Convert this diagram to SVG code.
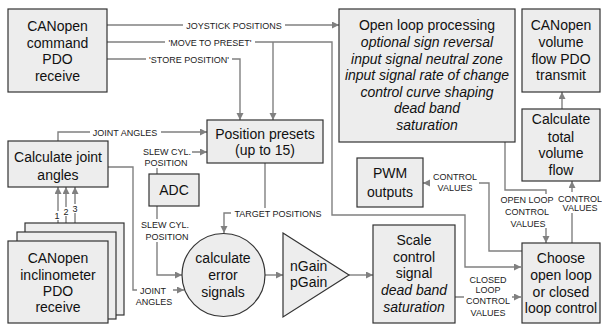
<svg xmlns="http://www.w3.org/2000/svg" width="602" height="325" viewBox="0 0 602 325">
<style>
.box{fill:#ededed;stroke:#333;stroke-width:1.2}
.t{font-family:"Liberation Sans",Arial,sans-serif;font-size:14px;fill:#111;text-anchor:middle}
.i{font-style:italic}
.l{font-family:"Liberation Sans",Arial,sans-serif;font-size:9px;fill:#222;text-anchor:middle}
.c{fill:none;stroke:#808080;stroke-width:1.4}
.bg{fill:#fff}
</style>
<defs>
<marker id="a" markerUnits="userSpaceOnUse" markerWidth="8" markerHeight="8" refX="7" refY="3.5" orient="auto">
<path d="M0,0 L7,3.5 L0,7 z" fill="#808080"/>
</marker>
</defs>
<g id="connectors">
<path class="c" d="M107,25 H339" marker-end="url(#a)"/>
<path class="c" d="M107,42 H332 V215 H465 V267 H521" marker-end="url(#a)"/>
<path class="c" d="M273,42 V120" marker-end="url(#a)"/>
<path class="c" d="M107,59 H240 V120" marker-end="url(#a)"/>
<path class="c" d="M58,141 V132 H207" marker-end="url(#a)"/>
<path class="c" d="M157,174 V152 H207" marker-end="url(#a)"/>
<path class="c" d="M157,206 V275 H182" marker-end="url(#a)"/>
<path class="c" d="M108,167 H133 V290 H184" marker-end="url(#a)"/>
<path class="c" d="M265,163 V213 H224 V233" marker-end="url(#a)"/>
<path class="c" d="M265,275 H283" marker-end="url(#a)"/>
<path class="c" d="M349,275 H373" marker-end="url(#a)"/>
<path class="c" d="M455,297 H521" marker-end="url(#a)"/>
<path class="c" d="M505,142 V190 H546 V243" marker-end="url(#a)"/>
<path class="c" d="M522,251 H489 V183 H423" marker-end="url(#a)"/>
<path class="c" d="M572,243 V181" marker-end="url(#a)"/>
<path class="c" d="M562,109 V92" marker-end="url(#a)"/>
<path class="c" d="M58,241 V187" marker-end="url(#a)"/>
<path class="c" d="M66,232 V187" marker-end="url(#a)"/>
<path class="c" d="M75,223 V187" marker-end="url(#a)"/>
<rect class="bg" x="183" y="20" width="102" height="10"/>
<text class="l" x="234" y="28.5">JOYSTICK POSITIONS</text>
<rect class="bg" x="165" y="37" width="90" height="10"/>
<text class="l" x="210" y="45.5">'MOVE TO PRESET'</text>
<rect class="bg" x="146" y="54" width="86" height="10"/>
<text class="l" x="189" y="62.5">'STORE POSITION'</text>
<rect class="bg" x="90" y="127" width="71" height="10"/>
<text class="l" x="125" y="135.5">JOINT ANGLES</text>
<rect class="bg" x="141" y="146" width="51" height="22"/>
<text class="l" x="167" y="155">SLEW CYL.</text>
<text class="l" x="166" y="166">POSITION</text>
<rect class="bg" x="142" y="219" width="50" height="23"/>
<text class="l" x="165" y="228">SLEW CYL.</text>
<text class="l" x="167" y="239.5">POSITION</text>
<rect class="bg" x="137" y="284" width="36" height="23"/>
<text class="l" x="153" y="294">JOINT</text>
<text class="l" x="154" y="305">ANGLES</text>
<rect class="bg" x="231" y="208" width="94" height="11"/>
<text class="l" x="278" y="216.5">TARGET POSITIONS</text>
<rect class="bg" x="464" y="273" width="48" height="45"/>
<text class="l" x="488" y="282.5">CLOSED</text>
<text class="l" x="488" y="293">LOOP</text>
<text class="l" x="488" y="304">CONTROL</text>
<text class="l" x="488" y="316">VALUES</text>
<rect class="bg" x="498" y="194" width="59" height="34"/>
<text class="l" x="527" y="202.5">OPEN LOOP</text>
<text class="l" x="527" y="215">CONTROL</text>
<text class="l" x="528" y="226.5">VALUES</text>
<rect class="bg" x="430" y="170" width="49" height="23"/>
<text class="l" x="455" y="180">CONTROL</text>
<text class="l" x="455" y="191">VALUES</text>
<rect class="bg" x="558" y="192" width="44" height="21"/>
<text class="l" x="580" y="201.5">CONTROL</text>
<text class="l" x="580" y="211">VALUES</text>
<rect class="bg" x="54" y="211" width="6" height="9"/>
<text class="l" x="57" y="218.5">1</text>
<rect class="bg" x="63" y="207" width="6" height="9"/>
<text class="l" x="66" y="215">2</text>
<rect class="bg" x="72" y="204" width="6" height="9"/>
<text class="l" x="75" y="211.5">3</text>
</g>
<g id="canopen-command">
<rect class="box" x="8" y="9" width="99" height="83"/>
<text class="t" x="57.5" y="31">CANopen</text>
<text class="t" x="57.5" y="47.5">command</text>
<text class="t" x="57.5" y="64">PDO</text>
<text class="t" x="57.5" y="81">receive</text>
</g>
<g id="open-loop">
<rect class="box" x="339" y="9" width="176" height="133"/>
<text class="t" x="427" y="30">Open loop processing</text>
<text class="t i" x="427" y="47">optional sign reversal</text>
<text class="t i" x="427" y="64">input signal neutral zone</text>
<text class="t i" x="427" y="80">input signal rate of change</text>
<text class="t i" x="427" y="97">control curve shaping</text>
<text class="t i" x="427" y="113">dead band</text>
<text class="t i" x="427" y="130">saturation</text>
</g>
<g id="canopen-volume">
<rect class="box" x="522" y="9" width="78" height="83"/>
<text class="t" x="561" y="30">CANopen</text>
<text class="t" x="561" y="47">volume</text>
<text class="t" x="561" y="64">flow PDO</text>
<text class="t" x="561" y="80">transmit</text>
</g>
<g id="calc-volume">
<rect class="box" x="522" y="109" width="78" height="72"/>
<text class="t" x="561" y="124">Calculate</text>
<text class="t" x="561" y="142">total</text>
<text class="t" x="561" y="158">volume</text>
<text class="t" x="561" y="175">flow</text>
</g>
<g id="position-presets">
<rect class="box" x="207" y="120" width="116" height="43"/>
<text class="t" x="265" y="139">Position presets</text>
<text class="t" x="265" y="155">(up to 15)</text>
</g>
<g id="calc-joint">
<rect class="box" x="8" y="141" width="100" height="46"/>
<text class="t" x="58" y="162">Calculate joint</text>
<text class="t" x="58" y="180">angles</text>
</g>
<g id="adc">
<rect class="box" x="149" y="174" width="50" height="32"/>
<text class="t" x="174" y="195">ADC</text>
</g>
<g id="pwm">
<rect class="box" x="357" y="158" width="66" height="49"/>
<text class="t" x="390" y="178">PWM</text>
<text class="t" x="390" y="197">outputs</text>
</g>
<g id="inclinometer">
<rect class="box" x="25" y="223" width="99" height="92"/>
<rect class="box" x="17" y="232" width="99" height="87"/>
<rect class="box" x="8" y="241" width="100" height="82"/>
<text class="t" x="58" y="263">CANopen</text>
<text class="t" x="58" y="280">inclinometer</text>
<text class="t" x="58" y="296">PDO</text>
<text class="t" x="58" y="312">receive</text>
</g>
<g id="error-signals">
<circle class="box" cx="223.5" cy="275" r="41.5"/>
<text class="t" x="223" y="263">calculate</text>
<text class="t" x="223" y="280">error</text>
<text class="t" x="223" y="297">signals</text>
</g>
<g id="gain">
<polygon class="box" points="283,233 349,275 283,317"/>
<text class="t" x="290" y="271" style="text-anchor:start">nGain</text>
<text class="t" x="290" y="287" style="text-anchor:start">pGain</text>
</g>
<g id="scale">
<rect class="box" x="373" y="225" width="82" height="98"/>
<text class="t" x="414" y="245">Scale</text>
<text class="t" x="414" y="262">control</text>
<text class="t" x="414" y="278">signal</text>
<text class="t i" x="414" y="295">dead band</text>
<text class="t i" x="414" y="312">saturation</text>
</g>
<g id="choose">
<rect class="box" x="522" y="243" width="78" height="80"/>
<text class="t" x="561" y="263">Choose</text>
<text class="t" x="561" y="280">open loop</text>
<text class="t" x="561" y="297">or closed</text>
<text class="t" x="561" y="313">loop control</text>
</g>
</svg>
